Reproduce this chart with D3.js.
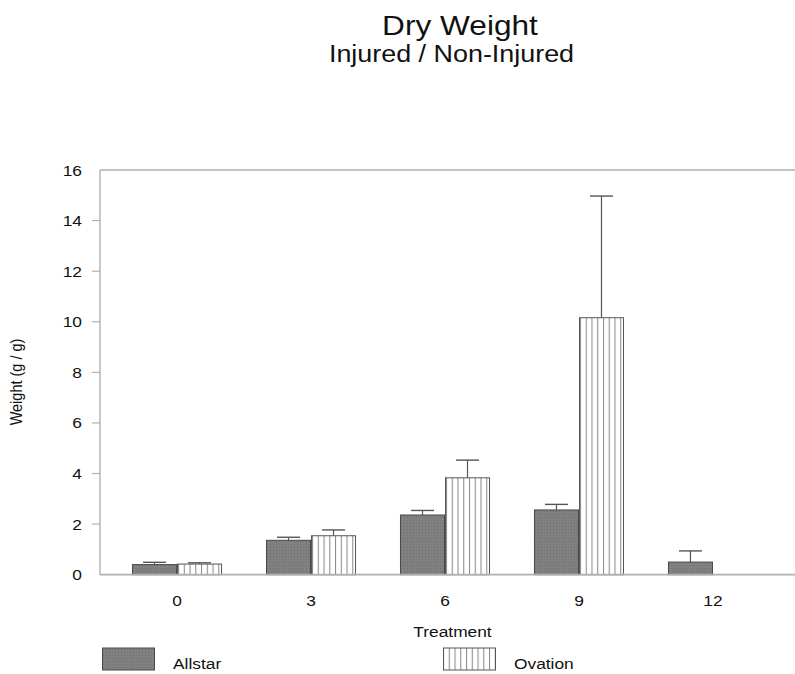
<!DOCTYPE html>
<html>
<head>
<meta charset="utf-8">
<script src="https://cdn.jsdelivr.net/npm/d3@7"></script>
<style>
  html, body { margin: 0; padding: 0; background: #fff; }
  svg { display: block; font-family: "Liberation Sans", Arial, Helvetica, sans-serif; }
</style>
</head>
<body>
<script>
// ---- data ----
const categories = ["0", "3", "6", "9", "12"];
const seriesNames = ["Allstar", "Ovation"];
const allstar = [0.40, 1.36, 2.36, 2.56, 0.50];
const allstarErr = [0.09, 0.12, 0.18, 0.22, 0.44];
const ovation = [0.42, 1.54, 3.83, 10.16, null];
const ovationErr = [0.05, 0.23, 0.70, 4.81, null];
const yTicks = [0, 2, 4, 6, 8, 10, 12, 14, 16];
const titleText = "Dry Weight";
const subtitleText = "Injured / Non-Injured";
const xLabel = "Treatment";
const yLabel = "Weight (g / g)";

const W = 795, H = 674;
const SX = 1.12; // horizontal text stretch seen in reference

const svg = d3.select("body").append("svg").attr("width", W).attr("height", H);

const defs = svg.append("defs");
// Ovation vertical-stripe pattern
const pat = defs.append("pattern").attr("id", "stripes").attr("patternUnits", "userSpaceOnUse")
  .attr("width", 5.75).attr("height", 10);
pat.append("rect").attr("width", 5.75).attr("height", 10).attr("fill", "#fff");
pat.append("line").attr("x1", 0.5).attr("x2", 0.5).attr("y1", 0).attr("y2", 10)
  .attr("stroke", "#8c8c8c").attr("stroke-width", 1.1);
// Allstar dotted gray pattern
const pat2 = defs.append("pattern").attr("id", "dots").attr("patternUnits", "userSpaceOnUse")
  .attr("width", 3).attr("height", 3);
pat2.append("rect").attr("width", 3).attr("height", 3).attr("fill", "#808080");
pat2.append("rect").attr("x", 1).attr("y", 1).attr("width", 1).attr("height", 1).attr("fill", "#6e6e6e");

// scales
const x0 = d3.scaleBand().domain(categories).range([100, 790]).paddingInner(0.328).paddingOuter(0.239);
const x1 = d3.scaleBand().domain(seriesNames).range([0, x0.bandwidth()]).padding(0);
const y = d3.scaleLinear().domain([0, 16]).range([574.7, 170]);

const fills = { Allstar: "url(#dots)", Ovation: "url(#stripes)" };
const strokes = { Allstar: "#4a4a4a", Ovation: "#555" };

// titles
function stretchedText(g, txt, cx, by, size, sx) {
  g.append("text").attr("transform", `translate(${cx},${by}) scale(${sx},1)`)
    .attr("text-anchor", "middle").attr("font-size", size).attr("fill", "#111").text(txt);
}
stretchedText(svg, titleText, 460, 35, 28, 1.13);
stretchedText(svg, subtitleText, 451.5, 62, 23, 1.17);

// frame lines
const axisColor = "#b0b0b0";
svg.append("line").attr("x1", 100).attr("x2", W).attr("y1", y(16)).attr("y2", y(16))
  .attr("stroke", axisColor).attr("stroke-width", 1.6);
svg.append("line").attr("x1", 100).attr("x2", 100).attr("y1", y(16)).attr("y2", y(0))
  .attr("stroke", axisColor).attr("stroke-width", 1.4);

// y ticks
const yg = svg.append("g");
yg.selectAll("line.t").data(yTicks.filter(v => v !== 0 && v !== 16)).join("line")
  .attr("x1", 92).attr("x2", 100).attr("y1", d => y(d)).attr("y2", d => y(d))
  .attr("stroke", axisColor).attr("stroke-width", 1.2);
yg.selectAll("text").data(yTicks).join("text")
  .attr("transform", d => `translate(82,${y(d) + 5.5}) scale(${SX},1)`)
  .attr("text-anchor", "end").attr("font-size", 15.5).attr("fill", "#111").text(d => d);

// bars
const rows = categories.map((c, i) => ({
  cat: c,
  vals: [
    { s: "Allstar", v: allstar[i], e: allstarErr[i] },
    { s: "Ovation", v: ovation[i], e: ovationErr[i] }
  ].filter(d => d.v != null)
}));

const groups = svg.append("g").selectAll("g").data(rows).join("g")
  .attr("transform", d => `translate(${x0(d.cat)},0)`);

groups.selectAll("g.err").data(d => d.vals).join("g").attr("class", "err").each(function(d) {
  const g = d3.select(this);
  const cx = x1(d.s) + x1.bandwidth() / 2;
  g.append("line").attr("x1", cx).attr("x2", cx).attr("y1", y(d.v)).attr("y2", y(d.v + d.e))
    .attr("stroke", "#555").attr("stroke-width", 1.2);
  g.append("line").attr("x1", cx - 11.5).attr("x2", cx + 11.5).attr("y1", y(d.v + d.e)).attr("y2", y(d.v + d.e))
    .attr("stroke", "#555").attr("stroke-width", 1.4);
});

groups.selectAll("rect").data(d => d.vals).join("rect")
  .attr("x", d => x1(d.s) + 0.5)
  .attr("width", x1.bandwidth() - 1)
  .attr("y", d => y(d.v))
  .attr("height", d => y(0) - y(d.v))
  .attr("fill", d => fills[d.s])
  .attr("stroke", d => strokes[d.s])
  .attr("stroke-width", 1);

// baseline
svg.append("line").attr("x1", 100).attr("x2", W).attr("y1", y(0)).attr("y2", y(0))
  .attr("stroke", axisColor).attr("stroke-width", 1.8);

// x tick labels
svg.append("g").selectAll("text").data(categories).join("text")
  .attr("transform", d => `translate(${x0(d) + x0.bandwidth() / 2},606) scale(${SX},1)`)
  .attr("text-anchor", "middle").attr("font-size", 15.5).attr("fill", "#111").text(d => d);

// axis titles
svg.append("text").attr("transform", `translate(452.5,636.5) scale(${SX},1)`)
  .attr("text-anchor", "middle").attr("font-size", 15.5).attr("fill", "#111").text(xLabel);
svg.append("text").attr("transform", `translate(22,382) rotate(-90) scale(1,1.1)`)
  .attr("text-anchor", "middle").attr("font-size", 14.5).attr("fill", "#111").text(yLabel);

// legend
const legendX = [102, 443];
const leg = svg.append("g").selectAll("g").data(seriesNames).join("g")
  .attr("transform", (d, i) => `translate(${legendX[i]},648)`);
leg.append("rect").attr("x", 0.5).attr("y", 0).attr("width", 52).attr("height", 22)
  .attr("fill", d => fills[d]).attr("stroke", d => strokes[d]).attr("stroke-width", 1);
leg.append("text").attr("transform", `translate(71,21) scale(${SX},1)`)
  .attr("font-size", 15.5).attr("fill", "#111").text(d => d);
</script>
</body>
</html>
